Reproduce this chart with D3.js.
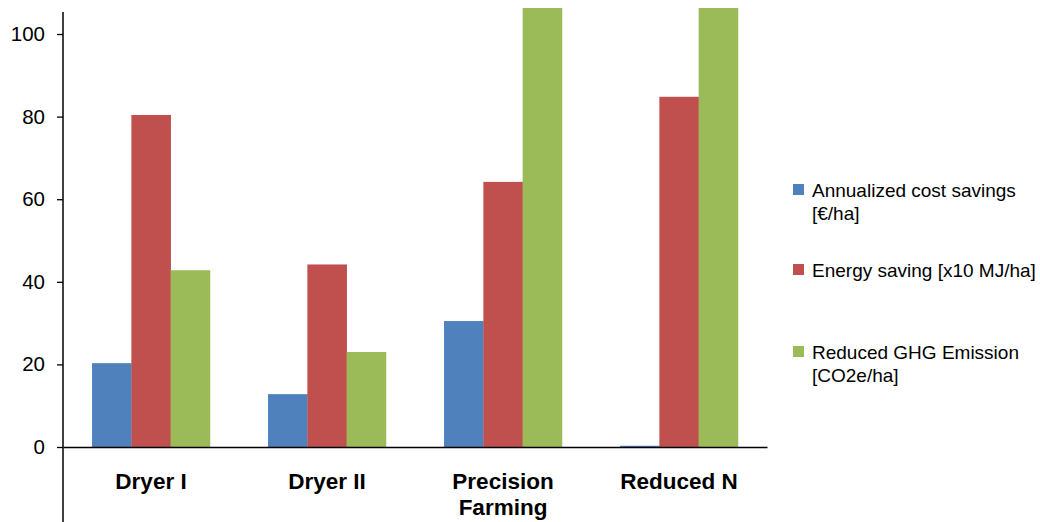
<!DOCTYPE html>
<html>
<head>
<meta charset="utf-8">
<script src="https://cdn.jsdelivr.net/npm/d3@7"></script>
<style>
  html, body { margin: 0; padding: 0; background: #fff; }
  svg { display: block; }
  text { font-family: "Liberation Sans", Arial, sans-serif; fill: #000; }
</style>
</head>
<body>
<svg id="chart" width="1040" height="522"></svg>
<script>
// ---- data ----
const categories = ["Dryer I", "Dryer II", "Precision Farming", "Reduced N"];
const costSavings = [20.3, 12.8, 30.5, 0.3];
const energySaving = [80.4, 44.2, 64.2, 84.8];
const ghgReduction = [42.8, 23.0, 120, 120];
const seriesNames = ["Annualized cost savings [€/ha]", "Energy saving [x10 MJ/ha]", "Reduced GHG Emission [CO2e/ha]"];
const legendLines = [["Annualized cost savings", "[€/ha]"], ["Energy saving [x10 MJ/ha]"], ["Reduced GHG Emission", "[CO2e/ha]"]];
const yTicks = [-20, 0, 20, 40, 60, 80, 100];
const colors = ["#4F81BD", "#C0504D", "#9BBB59"];

const series = [costSavings, energySaving, ghgReduction];

const svg = d3.select("#chart");
const plotLeft = 63, plotRight = 767, plotTop = 8;

const y = d3.scaleLinear().domain([-20, 106.3]).range([529.6, plotTop]);
const x0 = d3.scaleBand().domain(categories).range([plotLeft, plotRight]).paddingInner(0.33).paddingOuter(0.165);
const x1 = d3.scaleBand().domain(d3.range(series.length)).range([0, x0.bandwidth()]);

svg.append("defs").append("clipPath").attr("id", "clip")
  .append("rect").attr("x", plotLeft).attr("y", plotTop).attr("width", 1040 - plotLeft).attr("height", 522 - plotTop);

// bars
const g = svg.append("g").attr("clip-path", "url(#clip)");
series.forEach((vals, si) => {
  g.selectAll(".s" + si).data(vals).enter().append("rect")
    .attr("x", (d, i) => x0(categories[i]) + x1(si))
    .attr("width", x1.bandwidth() + 0.3)
    .attr("y", d => y(Math.max(0, d)))
    .attr("height", d => Math.abs(y(d) - y(0)))
    .attr("fill", colors[si]);
});

// y axis
const yAxis = d3.axisLeft(y).tickValues(yTicks).tickSize(6).tickSizeOuter(0).tickPadding(12);
const ya = svg.append("g").attr("transform", `translate(${plotLeft},0)`).call(yAxis);
ya.select(".domain").remove();
ya.selectAll(".tick line").attr("stroke", "#000").attr("stroke-width", 1.3);
ya.selectAll(".tick text").style("font-size", "20.5px").style("font-family", "Liberation Sans, Arial, sans-serif");
svg.append("line").attr("x1", plotLeft).attr("x2", plotLeft).attr("y1", 12).attr("y2", 522)
  .attr("stroke", "#000").attr("stroke-width", 1.5);

// x axis
const xAxis = d3.axisBottom(x0).tickSize(0).tickSizeOuter(0).tickFormat("");
const xa = svg.append("g").attr("transform", `translate(0,${y(0)})`).call(xAxis);
xa.select(".domain").attr("stroke", "#000").attr("stroke-width", 1.5);
xa.selectAll(".tick").each(function(d) {
  const t = d3.select(this).append("text")
    .attr("text-anchor", "middle")
    .style("font-size", "22.5px").style("font-weight", "bold")
    .style("font-family", "Liberation Sans, Arial, sans-serif");
  const words = d === "Precision Farming" ? ["Precision", "Farming"] : [d];
  words.forEach((w, i) => {
    t.append("tspan").attr("x", 0).attr("y", 42 + i * 26).text(w);
  });
});

// legend
const legendY = [197, 277, 359];
const lg = svg.append("g");
legendLines.forEach((lines, i) => {
  lg.append("rect").attr("x", 793).attr("y", legendY[i] - 13).attr("width", 11).attr("height", 11).attr("fill", colors[i]);
  const t = lg.append("text").style("font-size", "19px");
  lines.forEach((l, j) => {
    t.append("tspan").attr("x", 812).attr("y", legendY[i] + j * 23).text(l);
  });
});
</script>
</body>
</html>
